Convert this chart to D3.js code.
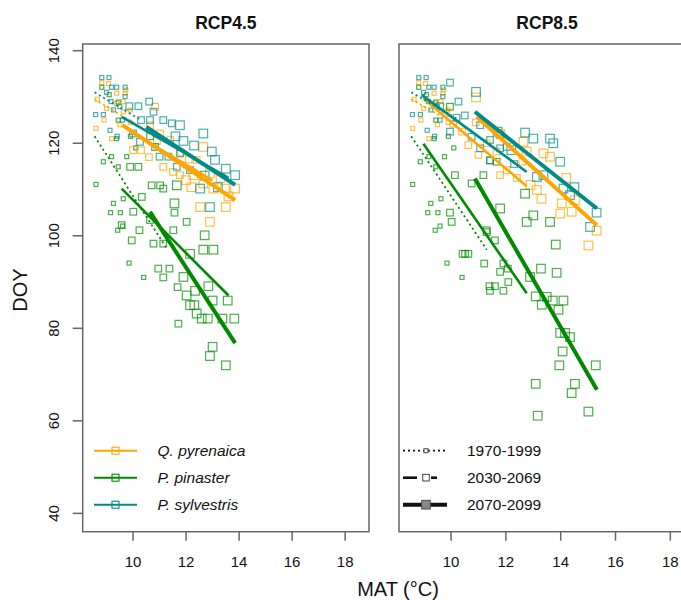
<!DOCTYPE html>
<html>
<head>
<meta charset="utf-8">
<title>DOY vs MAT, RCP4.5 and RCP8.5</title>
<script src="https://cdn.jsdelivr.net/npm/d3@7"></script>
<style>
  body { margin: 0; background: #fff; }
  svg text { font-family: "Liberation Sans", Arial, Helvetica, sans-serif; fill: #111; }
</style>
</head>
<body>
<svg id="chart" width="681" height="600"></svg>
<script>
  // categories
  species = ["Q. pyrenaica", "P. pinaster", "P. sylvestris"];
  colors = ["#ffa500", "#008a00", "#008b8b"];
  periods = ["1970-1999", "2030-2069", "2070-2099"];
  scenarios = ["RCP4.5", "RCP8.5"];
  xTicks = [10, 12, 14, 16, 18];
  yTicks = [40, 60, 80, 100, 120, 140];

  // 1970-1999 observations (same in both panels), [MAT, DOY]
  histQ = [[8.82,133.1],[9.07,132.9],[9.38,130.8],[9.70,130.8],[8.60,123.2],[8.90,125.0],[9.19,121.0],[9.38,128.6],[9.63,129.0],[9.63,126.8],[9.89,127.2],[8.65,129.5],[9.00,127.5],[9.90,124.5],[9.50,124.0],[9.73,131.5]];
  histP = [[8.82,132.1],[9.10,130.5],[8.60,111.1],[8.88,116.0],[9.26,107.0],[9.15,105.0],[9.52,105.0],[9.42,101.2],[9.63,108.0],[9.60,102.1],[9.19,117.1],[9.44,114.9],[9.76,117.1],[9.38,121.0],[9.85,94.1],[10.40,91.0],[9.44,128.9],[9.44,125.0],[9.90,121.5],[10.10,119.0]];
  histS = [[8.82,134.2],[9.09,134.2],[9.19,132.1],[9.38,132.1],[9.70,132.1],[8.59,126.2],[8.88,126.2],[9.17,129.0],[9.26,127.2],[9.70,130.1],[9.50,127.9],[9.13,122.8],[9.40,121.5],[9.00,131.0],[9.60,125.0]];

  // RCP4.5 projections
  q45a = [[10.0,118.5],[10.3,118.5],[10.64,123.9],[10.83,127.9],[11.02,122.1],[11.4,120.7],[11.14,114.9],[11.5,113.8],[10.6,117.0],[11.8,118.0],[12.1,116.5],[10.9,120.5],[12.4,116.4],[11.77,113.1]];
  q45b = [[12.27,113.1],[12.65,119.2],[12.65,111.3],[13.03,110.2],[13.47,110.2],[13.85,110.2],[12.53,106.2],[12.9,103.0],[13.5,106.2],[12.9,113.5],[13.3,112.5],[12.2,110.5],[13.6,108.5],[12.0,112.0]];
  p45a = [[10.64,121.5],[10.83,119.2],[9.89,114.9],[10.2,114.9],[10.7,110.9],[11.02,110.9],[11.14,110.2],[10.33,108.4],[10.01,105.2],[9.57,102.3],[10.64,103.4],[10.24,101.2],[9.95,99.0],[10.77,98.3],[11.14,98.3],[11.52,101.2],[10.95,92.9],[11.37,92.9],[11.14,91.0],[11.68,88.9],[11.71,81.0],[11.56,105.0],[12.02,103.0]];
  p45b = [[11.65,110.9],[12.15,96.1],[12.7,100.1],[12.65,97.0],[13.03,97.0],[11.9,91.1],[12.02,87.1],[12.34,88.1],[12.15,85.0],[12.31,85.0],[12.4,83.2],[12.59,82.1],[12.82,82.1],[13.37,82.1],[13.82,82.1],[12.84,89.1],[13.0,86.0],[13.57,86.0],[13.0,76.0],[12.9,74.0],[13.5,72.0],[11.56,107.0]];
  s45a = [[9.86,128.0],[10.2,128.0],[10.3,125.0],[10.0,122.1],[10.26,120.3],[10.64,125.0],[10.61,129.0],[11.0,117.1],[11.33,117.1],[11.14,125.0],[11.77,117.8],[11.65,114.9],[12.15,114.2],[10.77,126.8],[11.46,124.3]];
  s45b = [[11.77,123.9],[12.65,122.1],[12.97,118.2],[13.09,116.4],[12.53,110.2],[12.9,106.2],[13.85,113.1],[13.5,114.5],[12.3,119.5],[11.9,120.5],[12.7,113.0],[13.2,110.5],[11.6,121.5]];

  // RCP8.5 projections
  q85a = [[10.08,124.2],[10.63,119.6],[11.3,120.0],[11.66,118.2],[12.03,114.2],[11.79,113.1],[9.8,126.5],[10.4,122.5],[11.0,117.5],[12.4,112.5],[10.9,124.5],[12.6,116.0]];
  q85b = [[10.91,129.9],[12.64,120.3],[12.76,118.2],[13.37,117.8],[13.61,117.1],[13.13,109.9],[13.3,108.0],[14.04,107.0],[14.4,105.2],[14.52,107.7],[13.98,104.8],[15.01,97.9],[15.31,101.1],[14.2,112.5],[12.9,111.0],[11.8,122.0]];
  p85a = [[9.96,127.9],[10.14,113.1],[10.75,111.3],[11.18,113.1],[11.42,116.3],[11.66,116.0],[9.96,105.0],[10.02,103.0],[10.51,96.1],[10.63,96.1],[11.3,101.2],[11.21,94.0],[11.3,100.8],[11.6,99.0],[11.91,94.0],[12.07,92.9],[11.79,92.2],[12.09,90.0],[11.4,89.1],[11.6,89.1],[11.91,88.1],[11.42,88.1],[10.42,96.1]];
  p85b = [[11.79,105.9],[12.7,109.1],[12.76,103.0],[13.0,104.4],[13.61,103.0],[13.82,98.1],[13.28,92.9],[13.85,92.0],[12.88,91.1],[13.09,86.9],[13.31,85.1],[13.49,86.8],[13.71,86.0],[13.92,84.0],[14.1,86.0],[13.98,79.0],[14.16,79.0],[14.34,78.1],[14.07,75.0],[13.95,72.0],[15.28,72.0],[13.09,68.0],[14.52,68.0],[14.4,66.0],[13.16,61.1],[15.01,62.0]];
  s85a = [[9.96,133.1],[10.27,129.0],[9.96,122.5],[10.75,121.4],[11.06,123.9],[11.42,120.7],[11.06,118.9],[11.42,116.3],[11.79,118.9],[11.79,121.8],[12.03,119.2],[10.5,126.0],[9.6,128.0],[12.3,115.5],[10.2,125.5]];
  s85b = [[10.91,131.1],[12.7,122.3],[13.0,121.0],[13.61,121.0],[13.73,120.0],[13.98,116.0],[13.13,112.7],[13.37,113.1],[14.1,110.2],[14.34,108.8],[15.07,101.9],[15.31,105.0],[14.5,110.5],[12.2,118.5],[11.7,122.5]];

  // fitted lines [x0, y0, x1, y1]
  histFit = [[8.55,129.5,10.3,123.5],[8.55,121.5,11.3,97.0],[8.55,131.0,10.3,125.0]];
  fit45a = [[9.9,122.5,13.0,112.0],[9.57,110.2,13.6,87.1],[9.57,125.7,13.6,112.5]];
  fit45b = [[9.6,123.9,13.85,107.7],[10.64,105.15,13.85,76.8],[10.5,123.5,13.85,111.0]];
  fit85a = [[8.98,129.7,12.76,110.7],[8.99,119.9,12.76,87.6],[8.93,130.4,12.76,113.8]];
  fit85b = [[10.94,125.7,15.32,102.3],[10.87,112.4,15.32,66.7],[10.87,126.8,15.32,105.9]];

  // build panel tables from the arrays above
  hist = [histQ, histP, histS];
  panels = [
    { title: scenarios[0], x0: 82.7, x1: 369, axisY: true,
      pts: [hist, [q45a, p45a, s45a], [q45b, p45b, s45b]],
      fits: [histFit, fit45a, fit45b] },
    { title: scenarios[1], x0: 399, x1: 695, axisY: false,
      pts: [hist, [q85a, p85a, s85a], [q85b, p85b, s85b]],
      fits: [histFit, fit85a, fit85b] }
  ];

  // styles per period
  boxSize = [4, 6.6, 8.6];
  lineWidth = [1.8, 2.6, 4];
  lineDash = ["2,3", null, null];

  svg = d3.select("#chart");
  yScale = d3.scaleLinear().domain([36.04, 141.45]).range([531.7, 44]);
  top_ = 44; bottom = 531.7;
  axisCol = "#666";

  panels.forEach(function(p, pi) {
    xScale = d3.scaleLinear().domain([8.1, 18.9]).range([p.x0, p.x1]);
    g = svg.append("g");

    clipId = "clip" + pi;
    svg.append("clipPath").attr("id", clipId)
      .append("rect")
        .attr("x", p.x0).attr("y", top_)
        .attr("width", p.x1 - p.x0).attr("height", bottom - top_);

    plot = g.append("g").attr("clip-path", "url(#" + clipId + ")");

    // points
    p.pts.forEach(function(perSpecies, k) {
      perSpecies.forEach(function(arr, s) {
        c = d3.color(colors[s]);
        c.opacity = 0.7;
        plot.selectAll(null)
          .data(arr)
          .enter().append("rect")
            .attr("x", function(d) { return xScale(d[0]) - boxSize[k] / 2; })
            .attr("y", function(d) { return yScale(d[1]) - boxSize[k] / 2; })
            .attr("width", boxSize[k])
            .attr("height", boxSize[k])
            .attr("fill", "none")
            .attr("stroke", c + "")
            .attr("stroke-width", 1.2);
      });
    });

    // fitted lines
    [0, 1, 2].forEach(function(s) {
      p.fits.forEach(function(fits, k) {
        f = fits[s];
        plot.append("line")
          .attr("x1", xScale(f[0])).attr("y1", yScale(f[1]))
          .attr("x2", xScale(f[2])).attr("y2", yScale(f[3]))
          .attr("stroke", colors[s])
          .attr("stroke-width", lineWidth[k])
          .attr("stroke-dasharray", lineDash[k]);
      });
    });

    // box
    g.append("rect")
      .attr("x", p.x0).attr("y", top_)
      .attr("width", p.x1 - p.x0).attr("height", bottom - top_)
      .attr("fill", "none").attr("stroke", axisCol).attr("stroke-width", 1.5);

    // x axis
    xAxis = g.append("g");
    xAxis.selectAll("line")
      .data(xTicks)
      .enter().append("line")
        .attr("x1", function(d) { return xScale(d); })
        .attr("x2", function(d) { return xScale(d); })
        .attr("y1", bottom).attr("y2", bottom + 9)
        .attr("stroke", axisCol).attr("stroke-width", 1.5);
    xAxis.selectAll("text")
      .data(xTicks)
      .enter().append("text")
        .attr("x", function(d) { return xScale(d); })
        .attr("y", 567)
        .attr("text-anchor", "middle")
        .attr("font-size", 15)
        .text(function(d) { return d; });

    // y axis (left panel only)
    if (p.axisY) {
      yAxis = g.append("g");
      yAxis.selectAll("line")
        .data(yTicks)
        .enter().append("line")
          .attr("x1", p.x0 - 10).attr("x2", p.x0)
          .attr("y1", function(d) { return yScale(d); })
          .attr("y2", function(d) { return yScale(d); })
          .attr("stroke", axisCol).attr("stroke-width", 1.5);
      yAxis.selectAll("text")
        .data(yTicks)
        .enter().append("text")
          .attr("transform", function(d) { return "translate(59," + yScale(d) + ") rotate(-90)"; })
          .attr("text-anchor", "middle")
          .attr("font-size", 15)
          .text(function(d) { return d; });
    }

    // title
    g.append("text")
      .attr("x", (p.x0 + p.x1) / 2)
      .attr("y", 29)
      .attr("text-anchor", "middle")
      .attr("font-size", 17.5)
      .attr("font-weight", "bold")
      .text(p.title);
  });

  // axis titles
  svg.append("text")
    .attr("transform", "translate(27,290) rotate(-90)")
    .attr("text-anchor", "middle")
    .attr("font-size", 20)
    .text("DOY");
  svg.append("text")
    .attr("x", 398).attr("y", 596)
    .attr("text-anchor", "middle")
    .attr("font-size", 20)
    .text("MAT (°C)");

  // species legend (left panel)
  legY = [450.7, 477.7, 504.7];
  leg1 = svg.append("g");
  species.forEach(function(name, s) {
    leg1.append("line")
      .attr("x1", 94).attr("x2", 137)
      .attr("y1", legY[s]).attr("y2", legY[s])
      .attr("stroke", colors[s]).attr("stroke-width", 2);
    leg1.append("rect")
      .attr("x", 115.5 - 3.5).attr("y", legY[s] - 3.5)
      .attr("width", 7).attr("height", 7)
      .attr("fill", "none").attr("stroke", colors[s]).attr("stroke-width", 1.1);
    leg1.append("text")
      .attr("x", 157.5).attr("y", legY[s] + 5.5)
      .attr("font-size", 15.5)
      .attr("font-style", "italic")
      .text(name);
  });

  // period legend (right panel)
  leg2 = svg.append("g");
  periods.forEach(function(name, k) {
    y = legY[k];
    if (k == 1) {
      leg2.append("line").attr("x1", 403).attr("x2", 417).attr("y1", y).attr("y2", y)
        .attr("stroke", "#111").attr("stroke-width", lineWidth[k]);
      leg2.append("line").attr("x1", 431).attr("x2", 437).attr("y1", y).attr("y2", y)
        .attr("stroke", "#111").attr("stroke-width", lineWidth[k]);
    } else {
      leg2.append("line").attr("x1", 403).attr("x2", 447).attr("y1", y).attr("y2", y)
        .attr("stroke", "#111").attr("stroke-width", lineWidth[k])
        .attr("stroke-dasharray", lineDash[k]);
    }
    leg2.append("rect")
      .attr("x", 426 - boxSize[k] / 2).attr("y", y - boxSize[k] / 2)
      .attr("width", boxSize[k]).attr("height", boxSize[k])
      .attr("fill", k == 2 ? "#888" : "#fff")
      .attr("stroke", "#555").attr("stroke-width", 1.1);
    leg2.append("text")
      .attr("x", 467).attr("y", y + 5.5)
      .attr("font-size", 15.5)
      .text(name);
  });
</script>
</body>
</html>
